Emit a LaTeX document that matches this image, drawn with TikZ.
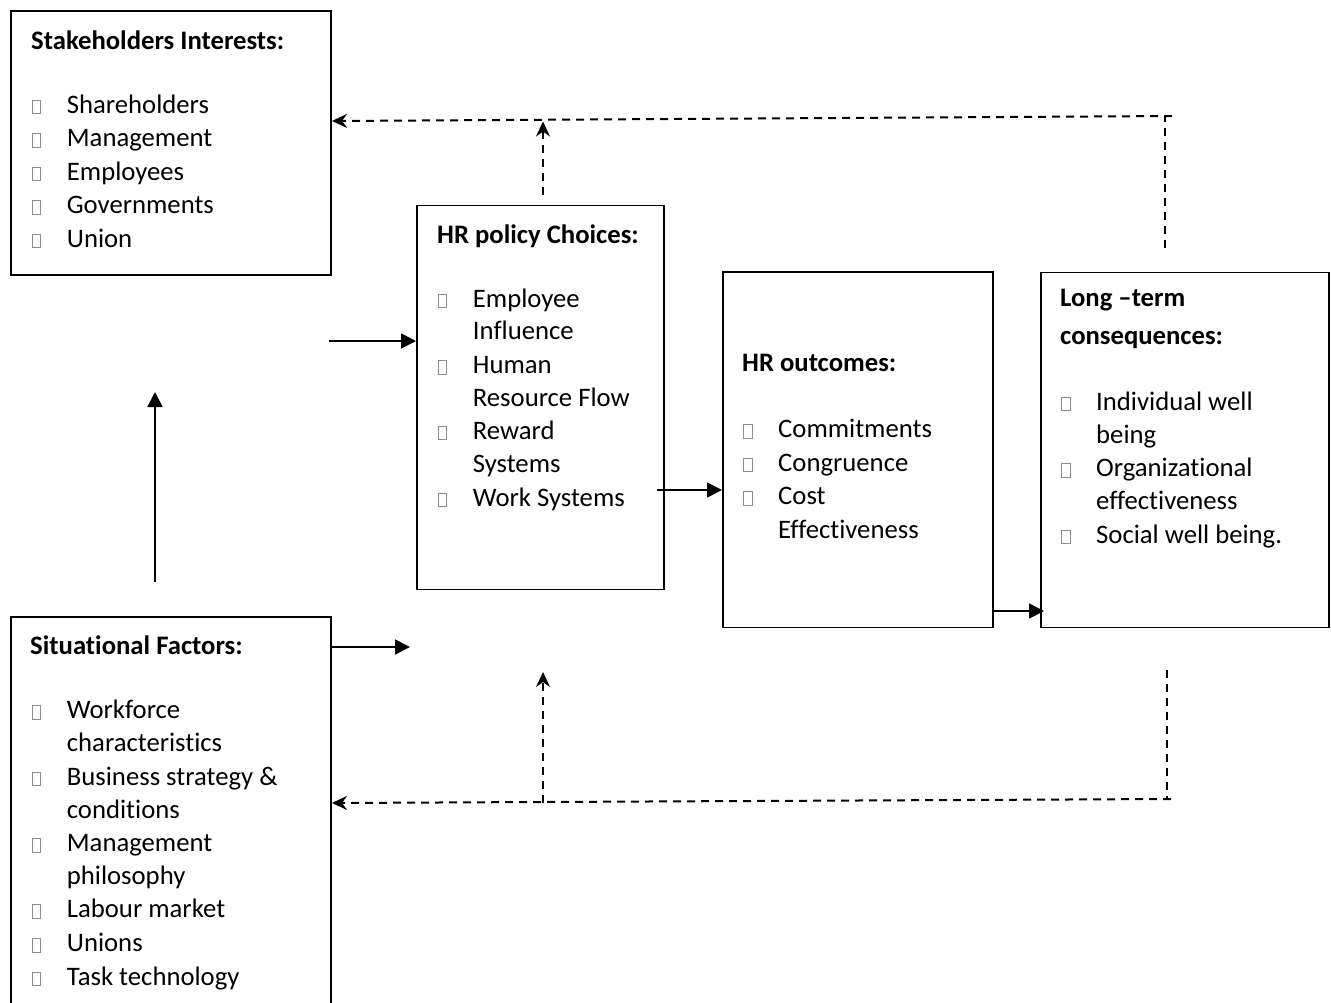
\documentclass[tikz,border=0pt]{standalone}
\usepackage{fontspec}
\setmainfont{Carlito}[Ligatures=NoCommon]
\usetikzlibrary{arrows.meta}
\definecolor{bulletgray}{gray}{0.55}
\newcommand\panelfont{\fontsize{26.7}{33.5}\selectfont}
% hollow square bullet hanging to the left of the item text
\newcommand\sqbullet{\llap{{\color{bulletgray}\fboxrule=1pt\fboxsep=0pt\fbox{\rule{0pt}{12.5pt}\hspace{7.5pt}}}\hspace{25.5pt}}}
\tikzset{
  panel/.style={draw, line width=1.8pt, anchor=north west, inner sep=0pt},
  ttl/.style={anchor=base west, inner sep=0pt, font={\panelfont\bfseries}},
  txt/.style={anchor=base west, inner sep=0pt, font=\panelfont},
  itm/.style={txt, execute at begin node=\sqbullet},
  arr/.style={line width=1.8pt, -{Triangle[length=15pt,width=15pt]}},
  dsh/.style={line width=2pt, dash pattern=on 8pt off 6pt},
  darr/.style={dsh, -{Stealth[length=15pt,width=14pt,inset=5pt]}},
}
\begin{document}
\begin{tikzpicture}[x=1pt,y=-1pt]
\useasboundingbox (0,0) rectangle (1331,1002);
\begin{scope}
\clip (0,0) rectangle (1331,1002);

% boxes
\node[panel, minimum width=320pt, minimum height=264pt] (stake) at (10,10) {};
\node[panel, minimum width=247pt, minimum height=384pt] (hrp) at (416,204.5) {};
\node[panel, minimum width=270pt, minimum height=355.5pt] (out) at (722,271) {};
\node[panel, minimum width=288pt, minimum height=355pt] (long) at (1040,271.5) {};
\node[panel, minimum width=320pt, minimum height=400pt] (sit) at (10,616) {};

% stakeholders interests
\node[ttl] (s0) at (31,49.2) {Stakeholders Interests:};
\node[itm] (s1) at (66.7,113) {Shareholders};
\node[itm] (s2) at (66.7,146.5) {Management};
\node[itm] (s3) at (66.7,180) {Employees};
\node[itm] (s4) at (66.7,213.5) {Governments};
\node[itm] (s5) at (66.7,247) {Union};

% HR policy choices
\node[ttl] (p0) at (437,243.5) {HR policy Choices:};
\node[itm] (p1) at (472.7,307) {Employee};
\node[txt] (p2) at (472.7,339.5) {Influence};
\node[itm] (p3) at (472.7,373.7) {Human};
\node[txt] (p4) at (472.7,406) {Resource Flow};
\node[itm] (p5) at (472.7,439.3) {Reward};
\node[txt] (p6) at (472.7,472.7) {Systems};
\node[itm] (p7) at (472.7,506) {Work Systems};

% HR outcomes
\node[ttl] (o0) at (742,371.5) {HR outcomes:};
\node[itm] (o1) at (778,437.5) {Commitments};
\node[itm] (o2) at (778,471) {Congruence};
\node[itm] (o3) at (778,504.5) {Cost};
\node[txt] (o4) at (778,538) {Effectiveness};

% long-term consequences
\node[ttl] (l0) at (1060,306.5) {Long –term};
\node[ttl] (l1) at (1060,344.5) {consequences:};
\node[itm] (l2) at (1096,410) {Individual well};
\node[txt] (l3) at (1096,443.2) {being};
\node[itm] (l4) at (1096,476.5) {Organizational};
\node[txt] (l5) at (1096,509.8) {effectiveness};
\node[itm] (l6) at (1096,543.2) {Social well being.};

% situational factors
\node[ttl] (f0) at (30,654) {Situational Factors:};
\node[itm] (f1) at (66.7,718.5) {Workforce};
\node[txt] (f2) at (66.7,751) {characteristics};
\node[itm] (f3) at (66.7,785) {Business strategy \&};
\node[txt] (f4) at (66.7,818) {conditions};
\node[itm] (f5) at (66.7,851.7) {Management};
\node[txt] (f6) at (66.7,884.5) {philosophy};
\node[itm] (f7) at (66.7,917.7) {Labour market};
\node[itm] (f8) at (66.7,951.5) {Unions};
\node[itm] (f9) at (66.7,985) {Task technology};

% connector end points
\coordinate (a1) at (329,341);
\coordinate (a2s) at (155,582);
\coordinate (a2e) at (155,392);
\coordinate (a3) at (410,647);
\coordinate (a4) at (657,490);
\coordinate (a5) at (1044,611);
\coordinate (t1) at (1165,248);
\coordinate (t2) at (1165,116);
\coordinate (t3) at (1172,116);
\coordinate (t4) at (332,121);
\coordinate (u1) at (543,195);
\coordinate (u2) at (543,121.5);
\coordinate (b1) at (1167,670);
\coordinate (b2) at (1167,799);
\coordinate (b3) at (1171,799);
\coordinate (b4) at (332,803);
\coordinate (v1) at (543,803);
\coordinate (v2) at (543,672);

% solid connectors
\draw[arr] (a1) -- (a1 -| hrp.west);
\draw[arr] (a2s) -- (a2e);
\draw[arr] (sit.east |- a3) -- (a3);
\draw[arr] (a4) -- (a4 -| out.west);
\draw[arr] (out.east |- a5) -- (a5);

% dashed feedback connectors
\draw[dsh] (t1) -- (t2);
\draw[darr] (t3) -- (t4);
\draw[darr] (u1) -- (u2);
\draw[dsh] (b1) -- (b2);
\draw[darr] (b3) -- (b4);
\draw[darr] (v1) -- (v2);
\end{scope}
\end{tikzpicture}
\end{document}
